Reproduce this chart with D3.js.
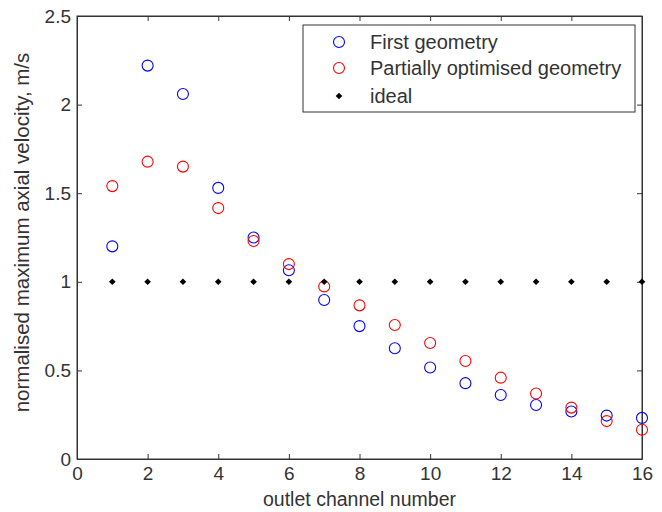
<!DOCTYPE html>
<html>
<head>
<meta charset="utf-8">
<script src="https://cdn.jsdelivr.net/npm/d3@7"></script>
<style>
  body { margin: 0; background: #fff; }
  svg text { font-family: "Liberation Sans", Arial, sans-serif; }
</style>
</head>
<body>
<svg id="chart" width="662" height="512"></svg>
<script>
const channels = [1, 2, 3, 4, 5, 6, 7, 8, 9, 10, 11, 12, 13, 14, 15, 16];
const firstGeometry = [1.20, 2.22, 2.06, 1.53, 1.25, 1.065, 0.897, 0.75, 0.625, 0.516, 0.428, 0.361, 0.305, 0.268, 0.245, 0.232];
const partialGeometry = [1.54, 1.678, 1.65, 1.416, 1.23, 1.10, 0.974, 0.867, 0.756, 0.655, 0.553, 0.459, 0.37, 0.29, 0.214, 0.165];
const ideal = [1, 1, 1, 1, 1, 1, 1, 1, 1, 1, 1, 1, 1, 1, 1, 1];
const xTicks = [0, 2, 4, 6, 8, 10, 12, 14, 16];
const yTicks = [0, 0.5, 1, 1.5, 2, 2.5];
const legendLabels = ['First geometry', 'Partially optimised geometry', 'ideal'];

const margin = { top: 16, right: 20, bottom: 53, left: 77 };
const width = 662 - margin.left - margin.right;
const height = 512 - margin.top - margin.bottom;
const axisColor = '#333';
const textColor = '#333';

const svg = d3.select('#chart');
const g = svg.append('g').attr('transform', `translate(${margin.left},${margin.top})`);

const x = d3.scaleLinear().domain([0, 16]).range([0, width]);
const y = d3.scaleLinear().domain([0, 2.5]).range([height, 0]);

// frame
g.append('rect')
  .attr('width', width).attr('height', height)
  .attr('fill', 'none').attr('stroke', axisColor).attr('stroke-width', 1);

// axes with inward ticks
const tickLen = 5;
const fmt = d => String(d);
const xAxisBottom = g.append('g').attr('transform', `translate(0,${height})`)
  .call(d3.axisBottom(x).tickValues(xTicks).tickSizeInner(-tickLen).tickSizeOuter(0).tickPadding(8).tickFormat(fmt));
const xAxisTop = g.append('g')
  .call(d3.axisTop(x).tickValues(xTicks).tickSizeInner(-tickLen).tickSizeOuter(0).tickFormat(''));
const yAxisLeft = g.append('g')
  .call(d3.axisLeft(y).tickValues(yTicks).tickSizeInner(-tickLen).tickSizeOuter(0).tickPadding(6).tickFormat(fmt));
const yAxisRight = g.append('g').attr('transform', `translate(${width},0)`)
  .call(d3.axisRight(y).tickValues(yTicks).tickSizeInner(-tickLen).tickSizeOuter(0).tickFormat(''));

[xAxisBottom, xAxisTop, yAxisLeft, yAxisRight].forEach(a => {
  a.select('.domain').attr('stroke', axisColor);
  a.selectAll('.tick line').attr('stroke', axisColor);
  a.selectAll('.tick text').attr('font-size', 19).attr('fill', textColor)
    .attr('font-family', '"Liberation Sans", Arial, sans-serif');
});

// axis labels
g.append('text')
  .attr('x', width / 2).attr('y', height + 47)
  .attr('text-anchor', 'middle').attr('font-size', 19.5).attr('fill', textColor)
  .text('outlet channel number');
g.append('text')
  .attr('transform', `translate(${-48},${height / 2 - 5}) rotate(-90)`)
  .attr('text-anchor', 'middle').attr('font-size', 20.5).attr('fill', textColor)
  .text('normalised maximum axial velocity, m/s');

// data
const r = 5.5;
g.append('g').selectAll('circle').data(channels)
  .join('circle')
  .attr('cx', d => x(d)).attr('cy', (d, i) => y(firstGeometry[i]))
  .attr('r', r).attr('fill', 'none').attr('stroke', '#0000ff').attr('stroke-width', 1.1);
g.append('g').selectAll('circle').data(channels)
  .join('circle')
  .attr('cx', d => x(d)).attr('cy', (d, i) => y(partialGeometry[i]))
  .attr('r', r).attr('fill', 'none').attr('stroke', '#ff0000').attr('stroke-width', 1.1);
// ideal marker: small square turned 45 degrees
const diamond = d3.symbol().type(d3.symbolSquare).size(22);
g.append('g').selectAll('path').data(channels)
  .join('path')
  .attr('transform', (d, i) => `translate(${x(d)},${y(ideal[i])}) rotate(45)`)
  .attr('d', diamond).attr('fill', '#000');

// legend
const lg = svg.append('g').attr('transform', 'translate(303,25)');
lg.append('rect').attr('width', 332).attr('height', 87)
  .attr('fill', '#fff').attr('stroke', axisColor).attr('stroke-width', 1);
const rows = [17, 43, 71];
legendLabels.forEach((label, i) => {
  const cy = rows[i];
  if (i < 2) {
    lg.append('circle').attr('cx', 36).attr('cy', cy).attr('r', r).attr('stroke-width', 1.1)
      .attr('fill', 'none').attr('stroke', i === 0 ? '#0000ff' : '#ff0000');
  } else {
    lg.append('path').attr('transform', `translate(36,${cy}) rotate(45)`).attr('d', diamond).attr('fill', '#000');
  }
  lg.append('text').attr('x', 67).attr('y', cy).attr('dy', '0.35em')
    .attr('font-size', 20).attr('fill', textColor).text(label);
});
</script>
</body>
</html>
